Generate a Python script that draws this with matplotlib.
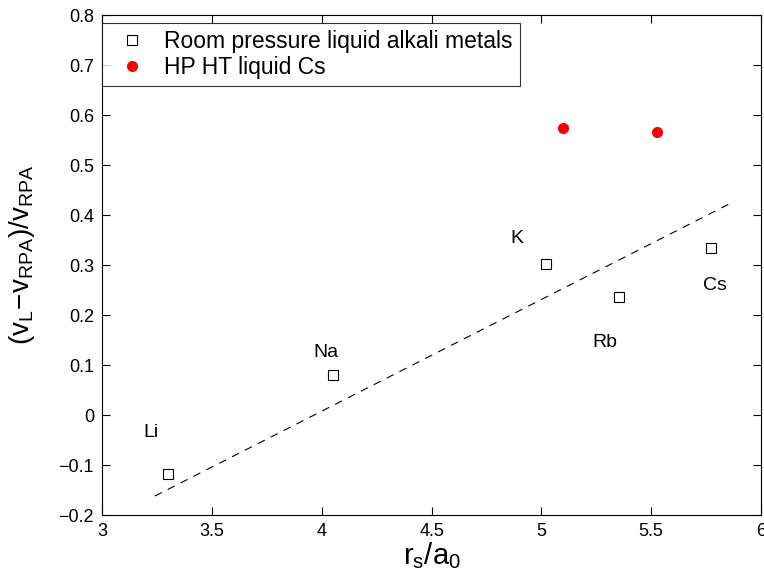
import matplotlib.pyplot as plt

plt.rcParams['font.family'] = ['Liberation Sans', 'DejaVu Sans']
plt.rcParams['mathtext.fontset'] = 'custom'
plt.rcParams['mathtext.rm'] = 'Liberation Sans'
plt.rcParams['mathtext.it'] = 'Liberation Sans'

# room pressure liquid alkali metals
metals = ['Li', 'Na', 'K', 'Rb', 'Cs']
rs_room = [3.298, 4.05, 5.019, 5.354, 5.774]
dv_room = [-0.118, 0.08, 0.303, 0.236, 0.335]
label_x = [3.22, 4.02, 4.89, 5.29, 5.79]
label_y = [-0.034, 0.126, 0.354, 0.146, 0.26]

# high pressure / high temperature liquid Cs
rs_hp = [5.097, 5.525]
dv_hp = [0.574, 0.567]

# linear trend (dashed)
fit_x = [3.239, 5.877]
fit_y = [-0.162, 0.427]

fig = plt.figure(figsize=(7.64, 5.8), dpi=100)
ax = fig.add_axes([0.134, 0.112, 0.862, 0.862])

ax.plot(fit_x, fit_y, '--', color='black', linewidth=0.8, dashes=(7, 6))
ax.plot(rs_room, dv_room, 's', markerfacecolor='white', markeredgecolor='black',
        markersize=7, markeredgewidth=0.8, label='Room pressure liquid alkali metals')
ax.plot(rs_hp, dv_hp, 'o', color='red', markersize=7,
        label='HP HT liquid Cs')

for name, x, y in zip(metals, label_x, label_y):
    ax.text(x, y, name, fontsize=14, ha='center', va='center')

ax.set_xlim(3, 6)
ax.set_ylim(-0.2, 0.8)
ax.set_xticks([3, 3.5, 4, 4.5, 5, 5.5, 6])
ax.set_xticklabels(['3', '3.5', '4', '4.5', '5', '5.5', '6'])
ax.set_yticks([-0.2, -0.1, 0, 0.1, 0.2, 0.3, 0.4, 0.5, 0.6, 0.7, 0.8])
ax.set_yticklabels(['\u22120.2', '\u22120.1', '0', '0.1', '0.2', '0.3', '0.4',
                    '0.5', '0.6', '0.7', '0.8'])
ax.tick_params(direction='in', top=True, right=True, length=6, width=0.8,
               labelsize=13, pad=6)

ax.set_xlabel(r'$\mathregular{r_s/a_0}$', fontsize=21, labelpad=0)
ax.set_ylabel(r'$\mathregular{(v_L\!-\!v_{RPA})/v_{RPA}}$', fontsize=20)
ax.yaxis.set_label_coords(-0.1, 0.52)

leg = ax.legend(loc='upper left', bbox_to_anchor=(0, 0.984), borderaxespad=0,
                fancybox=False, edgecolor='black', fontsize=16.5,
                handletextpad=0.4, borderpad=0.3, labelspacing=0.15,
                handlelength=2.0)
leg.get_frame().set_linewidth(0.8)

fig.savefig('out.png', dpi=100)
